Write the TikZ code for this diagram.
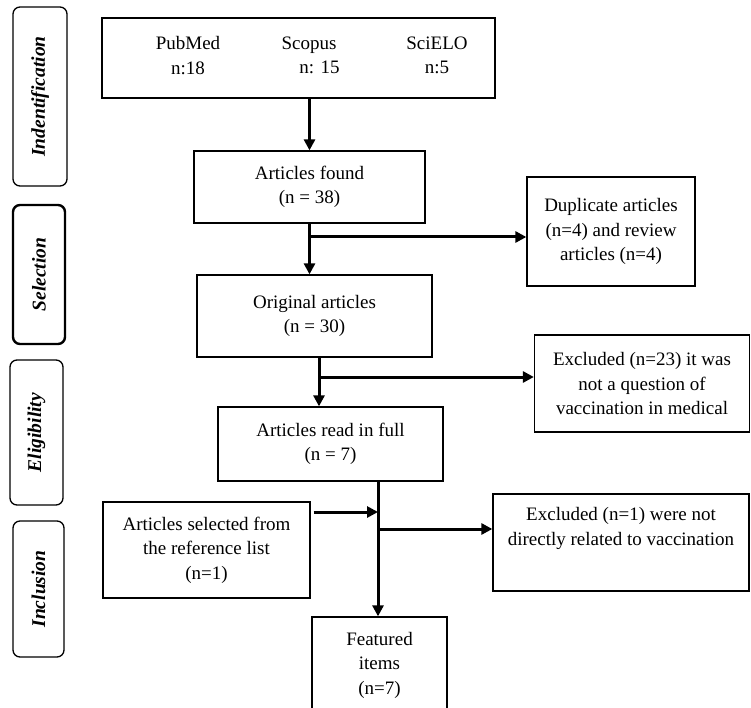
\documentclass[tikz,border=0pt]{standalone}
\usepackage{fontspec}
\setmainfont{Liberation Serif}
\usetikzlibrary{arrows.meta}

\begin{document}
\begin{tikzpicture}[x=1pt,y=-1pt]
    \tikzstyle{every node}+=[inner sep=0pt, font=\fontsize{19}{24.5}\selectfont]
    \tikzstyle{box}=[draw=black, line width=1.3pt, align=center]
    \tikzstyle{phase}=[draw=black, line width=1.3pt, rounded corners=7pt, rotate=90, font=\fontsize{19.5}{24}\selectfont\bfseries\itshape]
    \tikzstyle{flow}=[black, line width=3pt, -{Triangle[length=11pt,width=11pt]}]
    \tikzstyle{trunk}=[black, line width=3pt]
    \useasboundingbox (0,0) rectangle (751,708);
    \node [phase, minimum width=179, minimum height=54] (ident) at (40,96.5) {Indentification};
    \node [phase, line width=2.4pt, minimum width=139, minimum height=52] (select) at (39,274.5) {Selection};
    \node [phase, minimum width=145, minimum height=53] (elig) at (36.5,432.5) {Eligibility};
    \node [phase, minimum width=136, minimum height=51] (incl) at (38.5,589) {Inclusion};
    \node [box, minimum width=393, minimum height=80] (src) at (298.5,58) {};
    \node [align=center] (pubmed) at (188,55.5) {PubMed\\n:18};
    \node [align=center] (scopus) at (309,55.5) {Scopus\\\hspace*{1.1em}n: 15};
    \node [align=center] (scielo) at (437,55.5) {SciELO\\n:5};
    \node [box, minimum width=231, minimum height=72] (found) at (309.5,187) {Articles found\\(n = 38)};
    \node [box, minimum width=168, minimum height=109] (dup) at (611,231.5) {Duplicate articles\\(n=4) and review\\articles (n=4)};
    \node [box, minimum width=235, minimum height=82] (orig) at (314.5,316) {Original articles\\(n = 30)};
    \node [box, minimum width=215, minimum height=97] (excl23) at (642,383.5) {Excluded (n=23) it was\\not a question of\\vaccination in medical};
    \node [box, minimum width=225, minimum height=74] (fullread) at (330.5,444) {Articles read in full\\(n = 7)};
    \node [box, minimum width=207, minimum height=96] (refsel) at (206.5,550) {Articles selected from\\the reference list\\(n=1)};
    \node [box, minimum width=256, minimum height=97] (excl1) at (621,542.5) {Excluded (n=1) were not\\directly related to vaccination\\\strut};
    \node [box, minimum width=135, minimum height=96] (featured) at (379.5,665) {Featured\\items\\(n=7)};
    \coordinate (j1) at (309.5,237);
    \coordinate (j2) at (319,377);
    \coordinate (j3) at (378,512);
    \coordinate (j4) at (378,529);
    \draw [flow] (found.north |- src.south) -- (found.north);
    \draw [trunk] (found.south) -- (j1);
    \draw [flow] (j1) -- (j1 |- orig.north);
    \draw [flow] (j1) -- (j1 -| dup.west);
    \draw [trunk] (j2 |- orig.south) -- (j2);
    \draw [flow] (j2) -- (j2 |- fullread.north);
    \draw [flow] (j2) -- (j2 -| excl23.west);
    \draw [trunk] (j3 |- fullread.south) -- (j3);
    \draw [flow] (j3) -- (j3 |- featured.north);
    \draw [flow] ([xshift=3pt]j3 -| refsel.east) -- (j3);
    \draw [flow] (j4) -- (j4 -| excl1.west);
\end{tikzpicture}
\end{document}
